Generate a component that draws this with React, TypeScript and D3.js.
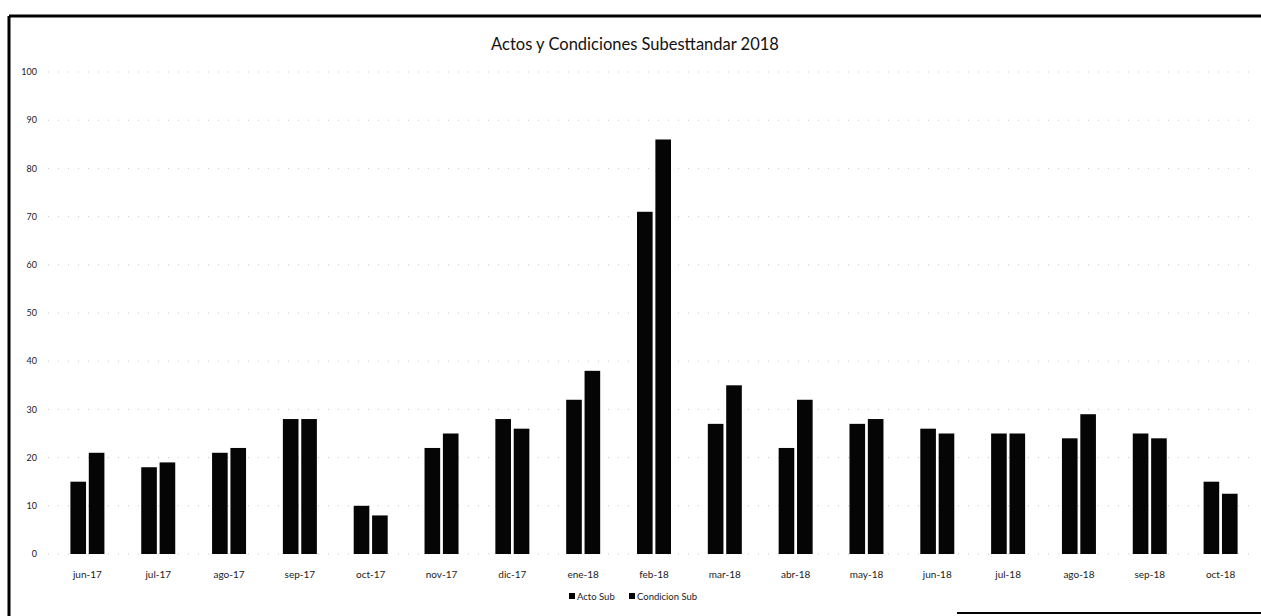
import React from "react";
import * as d3 from "d3";

const categories = ["jun-17","jul-17","ago-17","sep-17","oct-17","nov-17","dic-17","ene-18","feb-18","mar-18","abr-18","may-18","jun-18","jul-18","ago-18","sep-18","oct-18"];
const xLabels = ["jun-17","jul-17","ago-17","sep-17","oct-17","nov-17","dic-17","ene-18","feb-18","mar-18","abr-18","may-18","jun-18","jul-18","ago-18","sep-18","oct-18"];
const actoSub = [15, 18, 21, 28, 10, 22, 28, 32, 71, 27, 22, 27, 26, 25, 24, 25, 15];
const condicionSub = [21, 19, 22, 28, 8, 25, 26, 38, 86, 35, 32, 28, 25, 25, 29, 24, 12.5];
const yTicks = [0, 10, 20, 30, 40, 50, 60, 70, 80, 90, 100];
const seriesNames = ["Acto Sub", "Condicion Sub"];

const W = 1261, H = 616;
const FONT = "Lato, 'Open Sans', sans-serif";

export default function App() {
  const x = d3.scaleBand<string>().domain(categories).range([52, 1256]).paddingInner(0.52).paddingOuter(0.26);
  const xs = d3.scaleBand<string>().domain(seriesNames).range([0, x.bandwidth()]).paddingInner(0.15);
  const y = d3.scaleLinear().domain([0, 100]).range([554, 72]);
  const series = [actoSub, condicionSub];
  return (
    <div style={{ position: "absolute", left: 0, top: 0 }}>
      <svg width={W} height={H} style={{ display: "block", background: "#fff" }}>
        <line x1={9} x2={1261} y1={16} y2={16} stroke="#000" strokeWidth={3} />
        <line x1={9} x2={9} y1={16} y2={616} stroke="#000" strokeWidth={3} />
        <line x1={957} x2={1261} y1={613} y2={613} stroke="#000" strokeWidth={2} />
        <text x={635} y={50} textAnchor="middle" fontFamily={FONT} fontSize={16.5} fill="#111">Actos y Condiciones Subesttandar 2018</text>
        {yTicks.map((t) => (
          <g key={t}>
            <line x1={48} x2={1258} y1={y(t)} y2={y(t)} stroke="#c8c8c8" strokeWidth={1} strokeDasharray="1 9" />
            <text x={37} y={y(t)} dy="0.35em" textAnchor="end" fontFamily={FONT} fontSize={9} fill="#222">{t}</text>
          </g>
        ))}
        {series.map((vals, si) =>
          vals.map((v, i) => (
            <rect key={si + "-" + i}
              x={(x(categories[i]) ?? 0) + (xs(seriesNames[si]) ?? 0)}
              y={y(v)}
              width={xs.bandwidth()}
              height={y(0) - y(v)}
              fill="#050505" />
          ))
        )}
        {xLabels.map((l, i) => (
          <text key={l} x={(x(categories[i]) ?? 0) + x.bandwidth() / 2} y={578} textAnchor="middle" fontFamily={FONT} fontSize={10} fill="#222">{l}</text>
        ))}
        <g transform="translate(569,600)">
          <rect x={0} y={-7} width={6} height={6} fill="#050505" />
          <text x={8} y={0} fontFamily={FONT} fontSize={9.5} fill="#222">{seriesNames[0]}</text>
          <rect x={60} y={-7} width={6} height={6} fill="#050505" />
          <text x={68} y={0} fontFamily={FONT} fontSize={9.5} fill="#222">{seriesNames[1]}</text>
        </g>
      </svg>
    </div>
  );
}
